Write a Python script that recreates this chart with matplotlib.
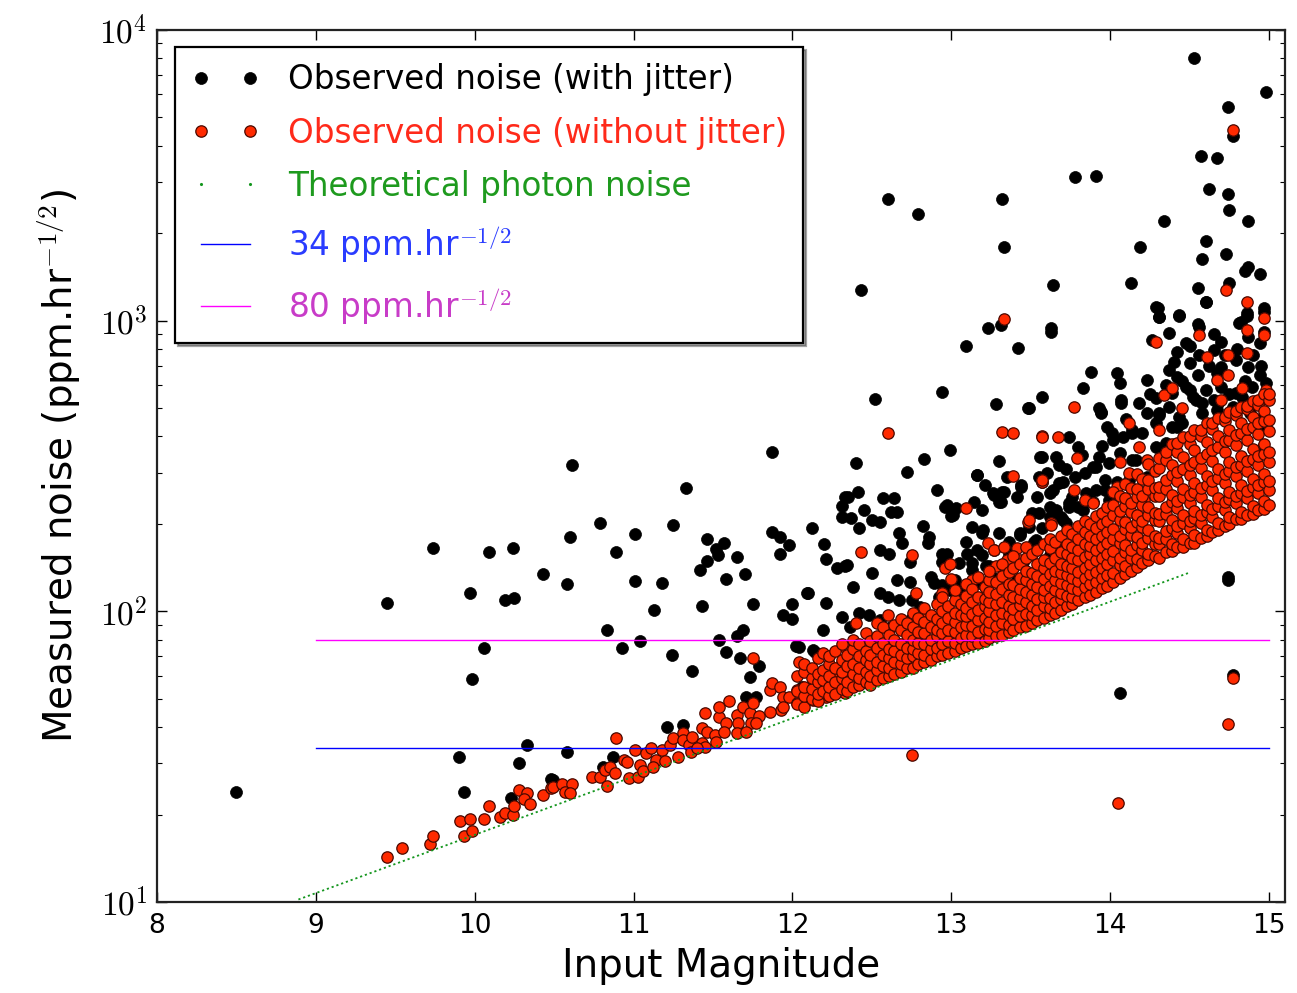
import numpy as np
import matplotlib
matplotlib.use('Agg')
import matplotlib.pyplot as plt
from matplotlib.lines import Line2D
from matplotlib.ticker import FuncFormatter, LogLocator, MultipleLocator, NullFormatter

plt.rcParams['font.family'] = ['DejaVu Sans']
plt.rcParams['mathtext.fontset'] = 'cm'

# ---------------- data ----------------
# observed noise with jitter (magnitude, ppm/sqrt(hr))
black_points = [
    (8.50, 23.9), (9.45, 107), (9.74, 165), (9.90, 31.5), (9.93, 23.9), (9.97, 116), (9.98, 58.5),
    (10.06, 74.8), (10.09, 160), (10.19, 109), (10.24, 165), (10.25, 111), (10.33, 34.7), (10.28, 30.0),
    (10.23, 22.8), (10.43, 134), (10.48, 26.5), (10.58, 124), (10.60, 180), (10.61, 318), (10.58, 32.8),
    (10.49, 26.3), (10.79, 201), (10.83, 86), (10.89, 160), (10.93, 75), (10.81, 29.1), (10.87, 31.5),
    (11.01, 184), (11.01, 127), (11.04, 79), (11.13, 101), (11.18, 125), (11.25, 198), (11.33, 266),
    (11.24, 70.8), (11.37, 62.4), (11.21, 40.0), (11.31, 40.6), (11.43, 104), (11.42, 139), (11.46, 149),
    (11.46, 177), (11.52, 164), (11.57, 172), (11.53, 156), (11.65, 154), (11.58, 129), (11.70, 134),
    (11.75, 106), (11.54, 80), (11.58, 72.4), (11.65, 82), (11.69, 86), (11.67, 69), (11.79, 64.9),
    (11.73, 59.4), (11.71, 50.7), (11.77, 50.7), (11.87, 353), (11.87, 187), (11.92, 180), (11.98, 169),
    (11.92, 157), (11.94, 97), (12.00, 106), (12.00, 94), (12.02, 76), (12.13, 73.6), (12.10, 116),
    (12.12, 194), (12.20, 171), (12.21, 151), (12.21, 107), (12.19, 86), (12.28, 141), (12.33, 143),
    (12.31, 211), (12.33, 247), (12.31, 230), (12.31, 95.5), (12.06, 55),
    (12.52, 537), (12.94, 568), (13.28, 516), (13.48, 502), (13.57, 546), (12.99, 359), (12.83, 334),
    (12.40, 324), (12.72, 301), (13.30, 329), (13.56, 340), (13.16, 294), (13.21, 272), (13.35, 290),
    (13.44, 268), (12.91, 261), (12.41, 257), (12.35, 247), (12.57, 245), (12.64, 245), (13.27, 251),
    (13.32, 257), (13.41, 247), (12.45, 223), (12.62, 220), (12.66, 220), (12.96, 228), (13.03, 227),
    (13.19, 223), (13.31, 238), (12.37, 210), (12.50, 206), (12.55, 203), (13.00, 213), (12.82, 196),
    (12.42, 194), (12.67, 186), (12.86, 180), (13.13, 195), (13.19, 186), (13.30, 186), (13.43, 183),
    (12.69, 172), (12.85, 172), (13.09, 173), (12.55, 163), (12.61, 158), (12.34, 144), (12.74, 148),
    (12.94, 158), (13.10, 158), (13.13, 147), (13.19, 156), (13.25, 131), (13.32, 144), (13.36, 158),
    (12.50, 136), (12.66, 128), (12.74, 126), (12.87, 131), (12.89, 125), (12.09, 116), (12.38, 121),
    (12.55, 116), (12.60, 112), (12.67, 109), (12.75, 109), (12.92, 112), (12.99, 118), (13.05, 120),
    (13.11, 123), (12.42, 98.6), (12.48, 97), (12.04, 75.3), (12.14, 72.4), (12.36, 88.3), (12.55, 93.3),
    (12.62, 88.3), (12.75, 94.8), (12.80, 103.5),
    (13.16, 294), (13.26, 255), (13.33, 257), (13.30, 238), (12.97, 232), (13.01, 214), (13.14, 238),
    (13.44, 272), (13.55, 290), (13.62, 255), (13.68, 276), (13.74, 236), (13.80, 228), (13.91, 261),
    (13.97, 283), (13.62, 228), (13.69, 211), (13.72, 201), (13.51, 218), (13.57, 194), (13.43, 186),
    (13.36, 173), (13.20, 190), (13.16, 163), (13.27, 163), (13.38, 165), (12.97, 158), (12.94, 148),
    (13.05, 147), (13.13, 139), (13.22, 143), (13.45, 148), (13.51, 158), (13.62, 156), (13.68, 167),
    (13.76, 167), (13.82, 176), (13.91, 180), (13.97, 186), (13.52, 173), (13.26, 130), (13.41, 128),
    (13.49, 135), (13.02, 128), (13.07, 116), (12.94, 123), (13.17, 125), (13.24, 143), (13.04, 111),
    (13.11, 123),
    (13.63, 914), (14.29, 1114), (14.31, 1029), (14.43, 1045), (14.60, 1159), (14.81, 982), (14.86, 1062),
    (14.97, 1104), (14.97, 914), (14.26, 857), (14.37, 906), (14.56, 951), (14.48, 837), (14.70, 844),
    (14.87, 879), (14.94, 837), (14.42, 780), (14.65, 793), (14.56, 762), (14.50, 715), (14.79, 731),
    (14.70, 692), (14.37, 676), (14.42, 640), (14.67, 661), (14.87, 692), (14.94, 650), (14.98, 610),
    (13.88, 665), (14.04, 661), (14.06, 610), (14.23, 625), (13.83, 586), (14.07, 533), (14.29, 542),
    (14.48, 591), (14.52, 546), (14.60, 577), (14.83, 546), (14.96, 546), (13.49, 502), (13.93, 502),
    (13.94, 481), (14.23, 481), (14.31, 481), (14.37, 505), (14.43, 466), (14.58, 520), (14.67, 492),
    (14.77, 505), (14.96, 466), (13.98, 430), (14.14, 421), (14.20, 410), (14.29, 445), (14.42, 430),
    (13.74, 398), (13.80, 367), (14.01, 410), (14.08, 398), (13.57, 340), (13.68, 318), (13.82, 345),
    (13.93, 340), (13.99, 324), (14.06, 351), (14.14, 331), (13.91, 314), (13.57, 279), (13.64, 261),
    (13.54, 247), (13.70, 279), (13.76, 247), (13.85, 255), (13.97, 261), (14.04, 279), (14.12, 272),
    (13.66, 223), (13.74, 228), (13.83, 223), (13.55, 218), (13.49, 195), (13.62, 211), (13.70, 206),
    (13.53, 176), (13.87, 241), (13.99, 241), (14.74, 131),
    (13.94, 485), (14.07, 522), (14.14, 410), (14.31, 473), (14.16, 331), (13.89, 314), (13.89, 238),
    (13.95, 218), (13.89, 195), (14.12, 283), (14.23, 290), (14.39, 564), (14.50, 577), (14.54, 533),
    (14.39, 430), (14.45, 445), (14.35, 380), (14.29, 367), (14.70, 590), (14.79, 564), (14.89, 590),
    (14.94, 533), (14.98, 430), (14.96, 367), (14.65, 533),
    (13.60, 300), (13.66, 340), (13.72, 310), (13.78, 290), (13.84, 300), (13.95, 370), (14.02, 390),
    (14.10, 460), (14.18, 520), (14.25, 560), (14.35, 600), (14.45, 620), (14.55, 650), (14.62, 700),
    (14.72, 760), (14.80, 800), (14.90, 760), (14.95, 700), (14.40, 720), (14.50, 820), (14.65, 900),
    (14.85, 620), (14.75, 560), (14.58, 480), (14.68, 520), (14.88, 480),
    (14.53, 8000), (14.98, 6110), (14.74, 5430), (14.77, 4320), (14.57, 3680), (14.67, 3620),
    (14.62, 2840), (14.74, 2725), (14.75, 2400), (14.87, 2200), (14.34, 2200), (13.78, 3120),
    (13.91, 3140), (12.60, 2620), (12.79, 2330), (13.32, 2620), (13.33, 1790), (14.19, 1790),
    (14.60, 1880), (14.58, 1630), (14.73, 1695), (14.85, 1483), (14.87, 1528), (14.94, 1446),
    (13.64, 1325), (14.13, 1346), (14.55, 1294), (14.75, 1346), (14.60, 1159), (14.86, 1037),
    (14.97, 1072), (14.30, 1104), (14.31, 1029), (14.43, 1037), (14.82, 992), (14.55, 977),
    (13.23, 944), (13.31, 966), (13.63, 944), (12.43, 1273), (13.09, 818), (13.42, 806),
    (14.06, 52.4), (14.77, 60.4), (14.74, 128),
]

# observed noise without jitter: isolated points
red_points = [
    (9.45, 14.3), (9.54, 15.3), (9.72, 15.8), (9.74, 16.9), (9.91, 19.0), (9.93, 16.9), (9.97, 19.3),
    (9.98, 17.5), (10.06, 19.3), (10.09, 21.4), (10.16, 19.6), (10.19, 20.2), (10.24, 19.9), (10.25, 21.4),
    (10.28, 24.3), (10.33, 23.7), (10.31, 22.6), (10.35, 21.7), (10.43, 23.3), (10.48, 24.7), (10.49, 24.9),
    (10.55, 25.5), (10.61, 25.5), (10.57, 23.9), (10.60, 23.7),
    (10.74, 26.9), (10.79, 26.9), (10.82, 28.5), (10.85, 29.1), (10.88, 27.8), (10.83, 25.1), (10.94, 30.8),
    (10.96, 30.3), (10.97, 26.7), (11.03, 26.9), (11.04, 29.6), (11.01, 33.3), (11.08, 32.6), (11.14, 30.8),
    (11.18, 33.3), (11.11, 33.9), (11.23, 34.7), (11.25, 36.6), (11.31, 38.1), (11.31, 36.1), (11.35, 34.7),
    (11.37, 37.0), (11.43, 35.2), (11.43, 39.7), (11.46, 38.5), (11.45, 44.7), (11.51, 37.5), (11.54, 43.3),
    (11.58, 41.3), (11.54, 46.9), (11.60, 49.0), (11.57, 38.5), (11.65, 44.0), (11.66, 41.3), (11.69, 46.9),
    (11.73, 44.7), (11.74, 41.3), (11.75, 48.4), (11.79, 43.6), (11.86, 53.6), (11.87, 56.6), (11.92, 54.9),
    (11.94, 50.7), (11.93, 45.7), (11.98, 50.7), (12.03, 53.6), (12.09, 50.7), (12.11, 54.5), (12.15, 56.6),
    (12.19, 59.4), (12.20, 53.6), (12.28, 59.4), (12.25, 56.6), (12.31, 66.4), (12.33, 75.3), (12.30, 54.9),
    (12.33, 52.4), (11.45, 34.1), (11.52, 35.5), (11.65, 38.1), (11.71, 38.5), (11.77, 41.3), (11.86, 45.1),
    (11.94, 46.9), (12.03, 48.4), (12.13, 49.5), (12.21, 50.7), (11.75, 69), (12.04, 67), (10.89, 36.6),
    (12.23, 70), (11.06, 28.2), (11.12, 29.2), (11.20, 30.5), (11.28, 31.5), (11.36, 32.8), (11.40, 34.0),
    (12.43, 160), (12.40, 91), (12.53, 91), (12.60, 97), (12.69, 93), (12.60, 410), (12.75, 156),
    (12.78, 116), (12.84, 97), (12.94, 116), (12.96, 141), (13.00, 129), (13.09, 227), (13.13, 128),
    (13.23, 172), (13.27, 163), (13.32, 414), (13.39, 410), (13.39, 292), (13.33, 167), (13.41, 165),
    (13.48, 203), (13.57, 400), (13.57, 279), (12.75, 32.1),
    (13.63, 201), (13.84, 241), (13.35, 150), (13.43, 150), (13.28, 143), (12.99, 145), (13.31, 121),
    (13.46, 121),
    (13.77, 505), (13.57, 398), (13.67, 398), (14.29, 844), (14.56, 891), (14.86, 929), (14.97, 1021),
    (14.86, 1159), (14.97, 891), (14.61, 750), (14.74, 762), (14.86, 774), (14.67, 625), (14.74, 650),
    (14.34, 555), (14.39, 586), (14.70, 533), (14.83, 586), (14.98, 577), (14.45, 502), (14.12, 445),
    (14.31, 421), (13.79, 337), (14.06, 327), (13.57, 283), (13.77, 261), (14.04, 268), (14.18, 367),
    (14.12, 299), (14.23, 331), (13.49, 206), (13.63, 198), (13.89, 236), (13.94, 195), (14.21, 241),
    (13.33, 1012), (14.77, 4530), (14.73, 1273),
    (14.77, 59), (14.74, 41), (14.05, 21.9),
]

# observed noise without jitter: the dense band, column by column (magnitude, noise values)
red_band = [
    (12.03, [48, 53, 60]),
    (12.07, [47, 51, 55, 62, 66]),
    (12.12, [50, 54, 59, 64]),
    (12.16, [49, 52, 57, 61, 69]),
    (12.19, [53, 58, 63, 72]),
    (12.23, [51, 55, 60, 66, 70]),
    (12.27, [52, 57, 64, 73]),
    (12.31, [54, 59, 62, 68, 77]),
    (12.34, [53, 57, 65, 71]),
    (12.38, [55, 61, 66, 74, 80]),
    (12.42, [56, 59, 64, 70, 77]),
    (12.46, [57, 62, 68, 73, 84]),
    (12.49, [56, 60, 66, 71, 79]),
    (12.53, [58, 63, 67, 75, 82]),
    (12.57, [59, 65, 71, 78, 88]),
    (12.61, [60, 64, 69, 74, 83]),
    (12.64, [61, 67, 73, 80, 90]),
    (12.68, [62, 66, 71, 77, 86, 94]),
    (12.72, [64, 69, 75, 83, 91]),
    (12.76, [64, 70, 74, 80, 88, 99]),
    (12.79, [66, 72, 78, 85, 95]),
    (12.83, [67, 71, 77, 84, 92, 103]),
    (12.87, [68, 74, 80, 88, 97]),
    (12.91, [70, 75, 82, 86, 94, 106]),
    (12.94, [71, 77, 84, 91, 100, 112]),
    (12.98, [72, 79, 86, 95, 104]),
    (13.02, [73, 78, 85, 92, 99, 109, 118]),
    (13.06, [75, 81, 88, 97, 106]),
    (13.09, [76, 83, 90, 96, 103, 113, 124]),
    (13.13, [77, 82, 89, 98, 108, 119]),
    (13.17, [78, 85, 93, 101, 112, 131]),
    (13.21, [79, 87, 95, 104, 110, 121]),
    (13.24, [81, 86, 92, 100, 108, 117, 128, 138]),
    (13.28, [82, 89, 97, 106, 115, 126]),
    (13.32, [83, 91, 99, 108, 119, 132, 145]),
    (13.36, [85, 90, 97, 104, 114, 124, 137]),
    (13.39, [86, 94, 102, 112, 123, 141, 155]),
    (13.43, [88, 96, 105, 111, 119, 130, 146]),
    (13.47, [89, 98, 108, 117, 128, 138, 152, 166]),
    (13.51, [91, 97, 104, 114, 124, 135, 158]),
    (13.54, [93, 101, 110, 121, 132, 145, 162]),
    (13.58, [95, 104, 112, 118, 129, 141, 150, 170]),
    (13.62, [97, 103, 111, 122, 134, 147, 165, 178]),
    (13.65, [99, 108, 118, 128, 138, 152, 173]),
    (13.69, [101, 110, 116, 125, 135, 145, 160, 182]),
    (13.73, [104, 113, 123, 133, 143, 157, 170, 190]),
    (13.76, [106, 112, 120, 130, 141, 153, 167, 185]),
    (13.80, [109, 118, 127, 137, 150, 163, 178, 196]),
    (13.84, [112, 121, 130, 141, 154, 170, 187, 205]),
    (13.87, [114, 124, 134, 145, 158, 168, 182, 200]),
    (13.91, [117, 126, 137, 150, 163, 178, 194, 212]),
    (13.95, [120, 130, 141, 153, 166, 181, 199, 218]),
    (13.98, [122, 133, 145, 158, 172, 188, 205, 228]),
    (14.02, [126, 135, 150, 161, 178, 192, 214, 233, 258]),
    (14.06, [130, 144, 153, 172, 182, 206, 221, 249]),
    (14.09, [134, 143, 160, 169, 192, 203, 231, 246, 275]),
    (14.13, [138, 153, 162, 183, 195, 219, 235, 266]),
    (14.17, [142, 151, 169, 180, 203, 215, 247, 263, 296]),
    (14.20, [147, 162, 172, 195, 205, 233, 250, 286]),
    (14.24, [150, 158, 179, 190, 215, 228, 263, 283, 322]),
    (14.28, [155, 171, 181, 206, 218, 249, 266, 305]),
    (14.31, [152, 170, 179, 204, 217, 249, 267, 311, 336]),
    (14.35, [160, 178, 189, 216, 229, 263, 284, 331, 353]),
    (14.39, [161, 171, 194, 206, 237, 252, 294, 318, 376]),
    (14.42, [166, 186, 197, 227, 240, 280, 301, 354, 380]),
    (14.46, [167, 177, 202, 214, 247, 264, 310, 340, 399]),
    (14.50, [172, 193, 205, 236, 252, 294, 318, 377, 402]),
    (14.53, [172, 183, 210, 222, 258, 277, 327, 358, 422]),
    (14.57, [179, 201, 214, 248, 265, 312, 338, 400, 422]),
    (14.61, [181, 191, 220, 233, 272, 292, 348, 382, 445]),
    (14.64, [188, 211, 225, 261, 280, 329, 358, 424, 444]),
    (14.68, [190, 201, 231, 246, 288, 309, 368, 402, 462]),
    (14.72, [197, 223, 238, 277, 297, 352, 384, 450, 466]),
    (14.75, [199, 211, 243, 258, 303, 326, 389, 422, 484]),
    (14.79, [207, 235, 249, 291, 314, 373, 405, 474, 487]),
    (14.82, [208, 220, 255, 271, 318, 343, 410, 445, 506]),
    (14.86, [215, 245, 260, 305, 328, 390, 424, 497, 510]),
    (14.90, [217, 230, 267, 285, 334, 361, 430, 468, 531]),
    (14.93, [224, 256, 272, 318, 343, 406, 443, 514, 534]),
    (14.97, [225, 240, 278, 297, 349, 377, 452, 490, 558]),
    (15.00, [232, 262, 280, 327, 352, 417, 455, 534, 560]),
]

# theoretical photon noise (end points of the plotted relation)
theo_mag = [8.89, 14.50]
theo_noise = [10.2, 136.0]

# reference levels
level_mag = [9.0, 15.0]
level_34 = [34.0, 34.0]
level_80 = [80.0, 80.0]

labels = ['Observed noise (with jitter)', 'Observed noise (without jitter)',
          'Theoretical photon noise', r'34 ppm.hr$^{-1/2}$', r'80 ppm.hr$^{-1/2}$']

# ---------------- build arrays ----------------
black_mag = [p[0] for p in black_points]
black_noise = [p[1] for p in black_points]
red_mag = [p[0] for p in red_points] + [m for m, vals in red_band for _ in vals]
red_noise = [p[1] for p in red_points] + [v for m, vals in red_band for v in vals]

# ---------------- figure ----------------
fig = plt.figure(figsize=(12.97, 9.93), dpi=100)
ax = fig.add_axes([157 / 1297, 1 - 902 / 993, (1285 - 157) / 1297, (902 - 30) / 993])

col_black = 'black'
col_red = '#ff2a00'
col_green = '#14961e'
col_blue = '#0000ff'
col_mag = '#ff00ff'

h1, = ax.plot(black_mag, black_noise, 'o', color=col_black, ms=8.6, mec='black', mew=0.5,
              label=labels[0], zorder=2)
h2, = ax.plot(red_mag, red_noise, 'o', mfc=col_red, ms=8.2, mec='#4a0800', mew=0.9,
              label=labels[1], zorder=3)
ax.plot(theo_mag, theo_noise, color=col_green, lw=1.3, ls=(0, (1.2, 1.6)), zorder=4)
h4, = ax.plot(level_mag, level_34, color=col_blue, lw=1.0, label=labels[3], zorder=5)
h5, = ax.plot(level_mag, level_80, color=col_mag, lw=1.0, label=labels[4], zorder=5)
h3 = Line2D([], [], color=col_green, marker='.', ms=2.5, ls='none', label=labels[2])

ax.set_yscale('log')
ax.set_xlim(8, 15.1)
ax.set_ylim(10, 1e4)

ax.xaxis.set_major_locator(MultipleLocator(1))
ax.xaxis.set_major_formatter(FuncFormatter(lambda v, p: '%d' % round(v)))
ax.yaxis.set_major_locator(LogLocator(base=10, numticks=10))
ax.yaxis.set_minor_locator(LogLocator(base=10, subs=np.arange(2, 10), numticks=10))
ax.yaxis.set_major_formatter(FuncFormatter(lambda v, p: r'$10^{%d}$' % round(np.log10(v))))
ax.yaxis.set_minor_formatter(NullFormatter())

ax.tick_params(which='both', direction='in', top=True, right=True)
ax.tick_params(which='major', length=7.5, width=1.0, labelsize=19, pad=8)
ax.tick_params(which='minor', length=3.8, width=0.8)
ax.tick_params(axis='y', which='major', labelsize=24, pad=7)
for s in ax.spines.values():
    s.set_linewidth(1.6)
    s.set_color('#222222')

ax.set_xlabel('Input Magnitude', fontsize=28, labelpad=6)
ax.set_ylabel(r'Measured noise (ppm.hr$^{-1/2}$)', fontsize=28, labelpad=12)

leg = ax.legend([h1, h2, h3, h4, h5], labels, loc='upper left',
                bbox_to_anchor=(0.016, 0.9805), borderaxespad=0.0, numpoints=2,
                fontsize=23.5, frameon=True, fancybox=False, shadow=True,
                handlelength=2.1, handletextpad=0.85, borderpad=0.5, labelspacing=0.62)
leg.get_frame().set_edgecolor('black')
leg.get_frame().set_linewidth(1.6)
text_cols = ['black', '#ff2a1a', '#1e9a1e', '#2a3cff', '#c83cc8']
for t, c in zip(leg.get_texts(), text_cols):
    t.set_color(c)

fig.savefig('out.png', dpi=100, facecolor='white')
